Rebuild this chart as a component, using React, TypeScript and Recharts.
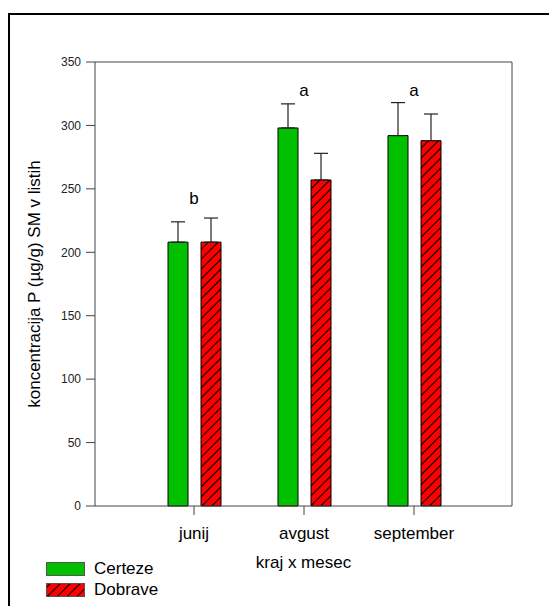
import React from "react";
import { BarChart, Bar, XAxis, YAxis, ErrorBar, ReferenceDot, Label, CartesianGrid } from "recharts";

const months = ["junij", "avgust", "september"];
const certeze = [208, 298, 292];
const dobrave = [208, 257, 288];
const certezeErr = [16, 19, 26];
const dobraveErr = [19, 21, 21];
const letters = ["b", "a", "a"];
const letterLevel = [243, 328, 328];
const yTicks = [0, 50, 100, 150, 200, 250, 300, 350];

const data = months.map((m, i) => ({
  month: m,
  certeze: certeze[i],
  dobrave: dobrave[i],
  certezeErr: [0, certezeErr[i]],
  dobraveErr: [0, dobraveErr[i]],
}));

const series = [
  { key: "certeze", name: "Certeze", fill: "#00c000", err: "certezeErr" },
  { key: "dobrave", name: "Dobrave", fill: "url(#hatch)", err: "dobraveErr" },
];

const font = "'Liberation Sans', Arial, sans-serif";
const axisColor = "#444";

const YLabel = (props: any) => {
  const vb = props.viewBox;
  const cx = 34;
  const cy = vb.y + vb.height / 2;
  return (
    <text
      x={cx}
      y={cy}
      transform={`rotate(-90 ${cx} ${cy})`}
      textAnchor="middle"
      dominantBaseline="central"
      fontSize={17}
      fill="#000"
    >
      koncentracija P (µg/g) SM v listih
    </text>
  );
};

// only the top and right edges of the plot box
const topEdge = (p: any) => [p.offset.top];
const rightEdge = (p: any) => [p.offset.left + p.offset.width];

const App = () => (
  <div style={{ position: "relative", width: 549, height: 606, overflow: "hidden", fontFamily: font, background: "#fff" }}>
    <style>{"body{margin:0}"}</style>
    <svg width={0} height={0} style={{ position: "absolute" }}>
      <defs>
        <pattern id="hatch" width="7" height="7" patternUnits="userSpaceOnUse" patternTransform="rotate(45)">
          <rect width="7" height="7" fill="#ff0000" />
          <line x1="3.5" y1="0" x2="3.5" y2="7" stroke="#000" strokeWidth="1.1" />
        </pattern>
      </defs>
    </svg>

    {/* outer frame */}
    <div style={{ position: "absolute", left: 8, top: 13, width: 600, height: 700, borderLeft: "2px solid #000", borderTop: "2px solid #000" }} />

    <div style={{ position: "absolute", left: 0, top: 0 }}>
      <BarChart
        width={549}
        height={606}
        data={data}
        margin={{ top: 62, right: 37, left: 0, bottom: 30 }}
        barSize={20}
        barGap={13}
        style={{ fontFamily: font }}
      >
        <CartesianGrid
          stroke={axisColor}
          horizontalCoordinatesGenerator={topEdge}
          verticalCoordinatesGenerator={rightEdge}
        />
        <XAxis
          dataKey="month"
          height={70}
          padding={{ left: 44, right: 43 }}
          tickSize={9}
          tickMargin={12}
          stroke={axisColor}
          tick={{ fill: "#000", fontSize: 17 }}
        >
          <Label value="kraj x mesec" position="insideBottom" offset={8} fill="#000" fontSize={17} />
        </XAxis>
        <YAxis
          width={95}
          domain={[0, 350]}
          ticks={yTicks}
          tickSize={9}
          tickMargin={5}
          stroke={axisColor}
          tick={{ fill: "#222", fontSize: 12 }}
        >
          <Label content={YLabel} />
        </YAxis>
        {series.map((s) => (
          <Bar key={s.key} dataKey={s.key} name={s.name} fill={s.fill} stroke="#000" strokeWidth={1} isAnimationActive={false}>
            <ErrorBar dataKey={s.err} width={7} stroke="#222" strokeWidth={1.2} isAnimationActive={false} />
          </Bar>
        ))}
        {months.map((m, i) => (
          <ReferenceDot
            key={m}
            x={m}
            y={letterLevel[i]}
            r={0}
            fill="none"
            stroke="none"
            label={{ value: letters[i], position: "center", fill: "#000", fontSize: 17 }}
          />
        ))}
      </BarChart>
    </div>

    {/* legend */}
    <div style={{ position: "absolute", left: 46, top: 558, fontSize: 17, color: "#000" }}>
      {series.map((s) => (
        <div key={s.key} style={{ display: "flex", alignItems: "center", height: 21 }}>
          <svg width={39} height={14} style={{ marginRight: 9 }}>
            <rect x={0.5} y={0.5} width={38} height={13} fill={s.fill} stroke="#555" strokeWidth={1} />
          </svg>
          <span>{s.name}</span>
        </div>
      ))}
    </div>
  </div>
);

export default App;
